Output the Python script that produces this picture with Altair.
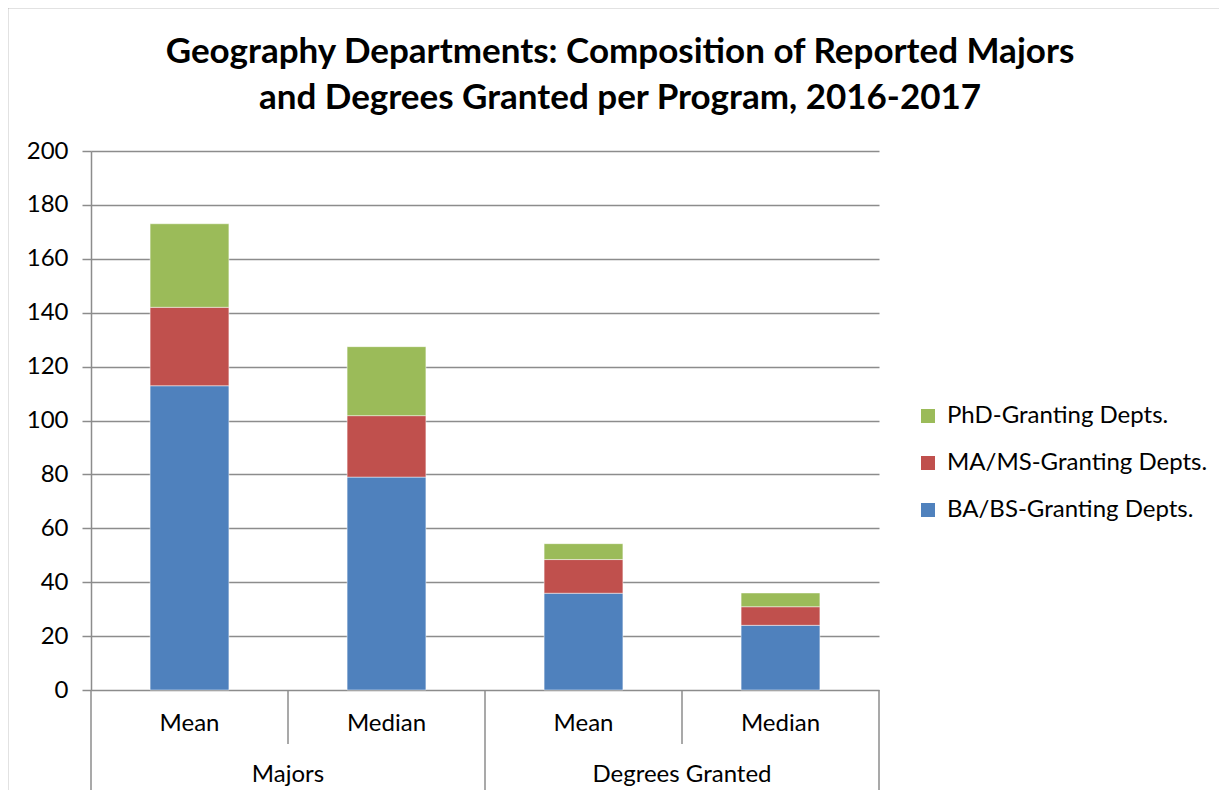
import altair as alt
import pandas as pd

# ---- data ----
groups = ["Majors", "Majors", "Degrees Granted", "Degrees Granted"]
stats = ["Mean", "Median", "Mean", "Median"]
ba_bs = [112.9, 79.0, 35.9, 24.0]
ma_ms = [29.1, 22.8, 12.5, 6.9]
phd = [31.0, 25.6, 5.9, 5.1]
series_names = ["BA/BS-Granting Depts.", "MA/MS-Granting Depts.", "PhD-Granting Depts."]
series_colors = ["#4F81BD", "#C0504D", "#9BBB59"]
group_names = ["Majors", "Degrees Granted"]
y_ticks = list(range(0, 201, 20))
title_lines = ["Geography Departments: Composition of Reported Majors",
               "and Degrees Granted per Program, 2016-2017"]

# ---- tables ----
rows = []
for i in range(len(stats)):
    base = 0.0
    for name, vals in zip(series_names, [ba_bs, ma_ms, phd]):
        rows.append(dict(idx=i, lo=i + 0.3, hi=i + 0.7, series=name,
                         value=vals[i], y0=base, y1=base + vals[i]))
        base += vals[i]
df = pd.DataFrame(rows)

cat_df = pd.DataFrame({"cx": [i + 0.5 for i in range(len(stats))], "stat": stats})
grp_df = pd.DataFrame({"gx": [1.0, 3.0], "group": group_names})
inner_sep = pd.DataFrame({"sx": [1.0, 3.0]})
outer_sep = pd.DataFrame({"sx": [0.0, 2.0, 4.0]})

W, H = 788, 539
GRAY = "#8c8c8c"
FONT = "Lato"
FS = 24

x_scale = alt.Scale(domain=[0, 4], nice=False, zero=False)
y_scale = alt.Scale(domain=[0, 200], nice=False)

legend_order = [series_names[2], series_names[1], series_names[0]]
legend_colors = [series_colors[2], series_colors[1], series_colors[0]]

bars = alt.Chart(df).mark_bar(stroke="#ffffff", strokeWidth=0.8, strokeOpacity=0.6).encode(
    x=alt.X("lo:Q", scale=x_scale, axis=None),
    x2="hi:Q",
    y=alt.Y("y0:Q", scale=y_scale,
            axis=alt.Axis(values=y_ticks, grid=True, title=None)),
    y2="y1:Q",
    color=alt.Color("series:N",
                    scale=alt.Scale(domain=legend_order, range=legend_colors),
                    legend=alt.Legend(orient="none", legendX=825, legendY=253,
                                      title=None, symbolType="square",
                                      symbolSize=196, symbolStrokeWidth=0,
                                      labelFont=FONT, labelFontSize=FS,
                                      labelColor="black", rowPadding=23,
                                      labelOffset=7, padding=0,
                                      labelLimit=400)),
)

cat_text = alt.Chart(cat_df).mark_text(font=FONT, fontSize=FS, color="black",
                                       baseline="middle").encode(
    x=alt.X("cx:Q", scale=x_scale, axis=None),
    y=alt.value(H + 34),
    text="stat:N",
)

grp_text = alt.Chart(grp_df).mark_text(font=FONT, fontSize=FS, color="black",
                                       baseline="middle").encode(
    x=alt.X("gx:Q", scale=x_scale, axis=None),
    y=alt.value(H + 85),
    text="group:N",
)

inner_rules = alt.Chart(inner_sep).mark_rule(color=GRAY, strokeWidth=1.5).encode(
    x=alt.X("sx:Q", scale=x_scale, axis=None),
    y=alt.value(H),
    y2=alt.value(H + 54),
)

outer_rules = alt.Chart(outer_sep).mark_rule(color=GRAY, strokeWidth=1.5).encode(
    x=alt.X("sx:Q", scale=x_scale, axis=None),
    y=alt.value(H),
    y2=alt.value(H + 103),
)

frame_src = alt.Data(values=[{"k": 1}])
border_top = alt.Chart(frame_src).mark_rule(color=GRAY, strokeWidth=1.5).encode(
    x=alt.value(-83), x2=alt.value(W + 400), y=alt.value(-143.5)
)
border_left = alt.Chart(frame_src).mark_rule(color=GRAY, strokeWidth=1.5).encode(
    x=alt.value(-83.5), y=alt.value(-144), y2=alt.value(H + 200)
)

chart = alt.layer(
    border_top, border_left, bars, inner_rules, outer_rules, cat_text, grp_text
).properties(
    width=W,
    height=H,
    autosize="none",
    padding={"left": 83, "top": 143, "right": 340, "bottom": 100},
    title=alt.TitleParams(text=title_lines, font=FONT, fontSize=35,
                          fontWeight="bold", color="black", anchor="middle",
                          dx=135, lineHeight=46, offset=-110),
).configure_view(
    stroke=None
).configure_axis(
    domainColor=GRAY, domainWidth=1.5, tickColor=GRAY, tickWidth=1.5,
    tickSize=9, gridColor=GRAY, gridWidth=1.5, labelFont=FONT,
    labelFontSize=FS, labelColor="black", labelPadding=14,
)

chart.save("out.html", embed_options={"renderer": "svg", "actions": False})
